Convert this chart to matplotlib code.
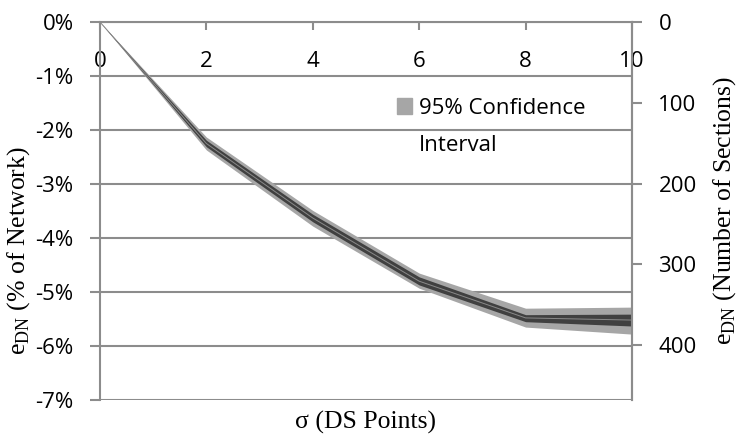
import matplotlib
matplotlib.use('Agg')
import matplotlib.pyplot as plt
from matplotlib.patches import Patch
from matplotlib.ticker import FuncFormatter

# data
sigma = [0, 2, 4, 6, 8, 10]
e_mean = [0, -2.25, -3.63, -4.80, -5.48, -5.52]
inner_lo = [0, -2.31, -3.70, -4.87, -5.55, -5.63]
inner_hi = [0, -2.19, -3.56, -4.72, -5.42, -5.41]
ci_lo = [0, -2.37, -3.78, -4.93, -5.65, -5.78]
ci_hi = [0, -2.13, -3.49, -4.65, -5.30, -5.28]
left_ticks = [0, -1, -2, -3, -4, -5, -6, -7]
right_ticks = [0, 100, 200, 300, 400]
x_ticks = [0, 2, 4, 6, 8, 10]

tick_font = 'Open Sans'
label_font = 'Liberation Serif'
grey = '#8c8c8c'
tsize = 16
lsize = 18.5

plt.rcParams['mathtext.fontset'] = 'custom'
plt.rcParams['mathtext.rm'] = label_font

fig = plt.figure(figsize=(7.39, 4.36), dpi=100)
ax = fig.add_axes([0.1353, 0.0826, 0.7199, 0.8669])

ax.fill_between(sigma, ci_lo, ci_hi, color='#a6a6a6', lw=0, zorder=3)
ax.fill_between(sigma, inner_lo, inner_hi, color='#404040', lw=0, zorder=4)
ax.plot(sigma, e_mean, color='#8a8a8a', lw=0.7, zorder=5)

ax.set_xlim(0, 10)
ax.set_ylim(-7, 0)
ax.set_yticks(left_ticks)
ax.yaxis.set_major_formatter(FuncFormatter(lambda v, p: '%d%%' % round(v)))
ax.set_xticks(x_ticks)
ax.grid(axis='y', color=grey, lw=1.5, zorder=1)

for s in ['left', 'right', 'top']:
    ax.spines[s].set_color(grey)
    ax.spines[s].set_linewidth(1.5)
ax.spines['bottom'].set_visible(False)

ax.tick_params(axis='x', top=True, bottom=False, labeltop=True, labelbottom=False,
               direction='in', length=6, width=1.5, color=grey, pad=-36, labelsize=tsize)
ax.tick_params(axis='y', direction='out', length=7, width=1.5, color=grey, labelsize=tsize, pad=12)
for lab in ax.get_xticklabels() + ax.get_yticklabels():
    lab.set_fontfamily(tick_font)

ax.set_xlabel('σ (DS Points)', fontfamily=label_font, fontsize=lsize, labelpad=8)
ax.set_ylabel(r'e$_{\mathrm{DN}}$ (% of Network)', fontfamily=label_font, fontsize=lsize)
ax.yaxis.set_label_coords(-0.128, 0.395)

ax2 = ax.twinx()
ax2.set_ylim(468, 0)
ax2.set_yticks(right_ticks)
ax2.spines['right'].set_color(grey)
ax2.spines['right'].set_linewidth(1.5)
for s in ['left', 'top', 'bottom']:
    ax2.spines[s].set_visible(False)
ax2.tick_params(axis='y', direction='out', length=7, width=1.5, color=grey, labelsize=tsize, pad=12)
for lab in ax2.get_yticklabels():
    lab.set_fontfamily(tick_font)
ax2.set_ylabel(r'e$_{\mathrm{DN}}$ (Number of Sections)', fontfamily=label_font, fontsize=lsize)
ax2.yaxis.set_label_coords(1.148, 0.5)

handles = [Patch(color='#a6a6a6'), Patch(color='none')]
leg = ax.legend(handles, ['95% Confidence', 'Interval'], loc='upper left',
                bbox_to_anchor=(0.558, 0.80), frameon=False,
                prop={'family': tick_font, 'size': tsize}, handlelength=0.7, handleheight=0.7,
                handletextpad=0.3, labelspacing=0.75, borderaxespad=0, borderpad=0)

fig.savefig('out.png', dpi=100)
